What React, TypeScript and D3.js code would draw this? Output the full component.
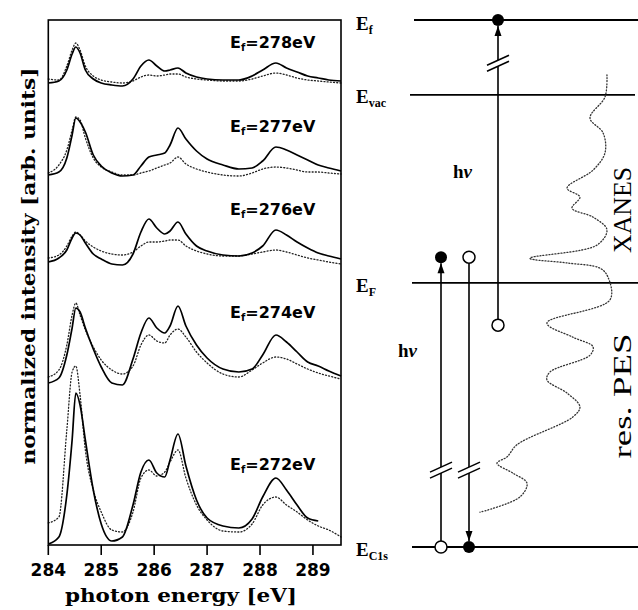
import React from 'react';
import * as d3 from 'd3';

// photon energy grid (eV) shared by all spectra
const energies = [284.0, 284.2, 284.35, 284.45, 284.52, 284.6, 284.7, 284.85, 285.0, 285.2, 285.4, 285.6, 285.75, 285.9, 286.05, 286.2, 286.3, 286.45, 286.6, 286.8, 287.0, 287.3, 287.6, 287.85, 288.05, 288.3, 288.5, 288.7, 288.9, 289.1, 289.3, 289.53];

// normalized intensity (arb. units, including vertical offsets)
const ef278Solid = [462, 464, 475, 491, 498, 492, 475, 466, 462, 460, 459, 466, 479, 485, 479, 474, 475, 477, 472, 468, 466, 465, 465, 469, 475, 482, 477, 473, 469, 467, 465, 464];
const ef278Dotted = [466, 465, 479, 495, 502, 495, 479, 469, 465, 463, 462, 464, 468, 470, 469, 470, 471, 471, 468, 466, 465, 464, 464, 466, 469, 472, 470, 467, 465, 464, 463, 462];
const ef277Solid = [370, 373, 387, 410, 427, 423, 413, 390, 379, 372, 369, 370, 379, 388, 390, 392, 400, 417, 406, 394, 386, 380, 376, 377, 384, 398, 395, 390, 385, 380, 377, 374];
const ef277Dotted = [372, 380, 395, 415, 428, 425, 407, 387, 378, 373, 370, 370, 372, 374, 377, 380, 382, 388, 381, 376, 373, 370, 369, 372, 376, 378, 377, 375, 373, 373, 372, 371];
const ef276Solid = [283, 287, 295, 307, 312, 310, 302, 291, 286, 281, 280, 291, 313, 326, 317, 311, 314, 323, 311, 299, 294, 290, 289, 292, 299, 315, 310, 303, 297, 292, 289, 286];
const ef276Dotted = [287, 290, 299, 309, 313, 310, 304, 298, 294, 291, 290, 293, 299, 303, 303, 304, 305, 305, 299, 294, 291, 289, 289, 291, 293, 295, 293, 290, 287, 285, 283, 281];
const ef274Solid = [162, 167, 190, 217, 237, 233, 217, 196, 178, 162, 160, 186, 212, 227, 217, 212, 219, 239, 219, 200, 187, 176, 173, 176, 190, 210, 203, 193, 183, 179, 174, 169];
const ef274Dotted = [168, 175, 200, 230, 242, 230, 215, 198, 185, 175, 171, 179, 200, 210, 204, 202, 210, 216, 208, 193, 182, 171, 168, 175, 182, 188, 186, 181, 176, 172, 169, 166];
const ef272Solid: (number | null)[] = [1, 8, 50, 105, 152, 140, 105, 55, 21, 4, 8, 40, 73, 85, 72, 68, 85, 111, 79, 45, 27, 19, 17, 26, 48, 67, 55, 40, 27, 24, null, null];
const ef272Dotted = [22, 28, 115, 173, 179, 150, 95, 55, 33, 15, 13, 33, 67, 75, 69, 73, 83, 95, 67, 40, 25, 14, 13, 21, 40, 48, 40, 33, 25, 19, 15, 8];

const finalEnergies = ['278', '277', '276', '274', '272'];
const labelLevels = [497, 413, 330, 227, 75];

const xTicks = [284, 285, 286, 287, 288, 289];

// energy-level diagram (arbitrary vertical energy units)
const levelNames = ['C1s', 'F', 'vac', 'f'];
const levelValues = [0, 50.1, 85.8, 100];

// rotated spectrum drawn in the level diagram: level position and intensity
const diagLevel = [89.6, 85.4, 81.4, 78.6, 74.8, 71.5, 68.1, 66.4, 64.3, 62.6, 60.2, 57.3, 54.8, 53.9, 52.9, 51.2, 46.9, 42.5, 39.8, 38.0, 36.4, 33.2, 31.7, 29.2, 26.6, 24.7, 19.4, 17.1, 15.9, 14.0, 12.1, 9.5, 6.6];
const diagIntensity = [0.913, 0.9, 0.8, 0.887, 0.9, 0.82, 0.647, 0.733, 0.68, 0.82, 0.913, 0.847, 0.4, 0.647, 0.867, 0.92, 0.933, 0.513, 0.687, 0.82, 0.8, 0.533, 0.513, 0.647, 0.733, 0.687, 0.313, 0.247, 0.18, 0.287, 0.38, 0.333, 0.067];

export default function App() {
  const W = 638, H = 610;
  const x = d3.scaleLinear().domain([284, 289.53]).range([48.3, 341]);
  const y = d3.scaleLinear().domain([0, 525]).range([545, 20]);

  const lineGen = d3.line<number | null>()
    .defined((v) => v != null)
    .x((_, i) => x(energies[i]))
    .y((v) => y(v as number))
    .curve(d3.curveMonotoneX);

  const spectra = [
    { solid: ef278Solid, dotted: ef278Dotted },
    { solid: ef277Solid, dotted: ef277Dotted },
    { solid: ef276Solid, dotted: ef276Dotted },
    { solid: ef274Solid, dotted: ef274Dotted },
    { solid: ef272Solid, dotted: ef272Dotted },
  ];

  // diagram scales
  const ly = d3.scaleLinear().domain([0, 100]).range([547, 20]);
  const ix = d3.scaleLinear().domain([0, 1]).range([470, 620]);
  const diagPts: [number, number][] = diagLevel.map((l, i) => [ix(diagIntensity[i]), ly(l)]);
  const diagPath = d3.line().curve(d3.curveCatmullRom.alpha(0.5))(diagPts) || '';

  const yEf = ly(levelValues[3]);
  const yVac = ly(levelValues[2]);
  const yEF = ly(levelValues[1]);
  const yC1s = ly(levelValues[0]);
  const upperTop = ly(55.0);
  const xanesEnd = ly(42.1);
  const breakHigh = ly(91.8);
  const breakLow = ly(14.6);

  const xC = 498, xL = 441, xM = 469;
  const r = 6;

  const breakMark = (cx: number, cy: number, key: string) => (
    <g key={key}>
      <line x1={cx - 11} y1={cy + 2} x2={cx + 11} y2={cy - 8} stroke="#000" strokeWidth={1.5} />
      <line x1={cx - 11} y1={cy + 8} x2={cx + 11} y2={cy - 2} stroke="#000" strokeWidth={1.5} />
    </g>
  );

  const vline = (cx: number, yTop: number, yBot: number, yBreak: number) => (
    <g>
      <line x1={cx} y1={yTop} x2={cx} y2={yBreak - 3} stroke="#000" strokeWidth={1.6} />
      <line x1={cx} y1={yBreak + 3} x2={cx} y2={yBot} stroke="#000" strokeWidth={1.6} />
    </g>
  );

  const arrowUp = (cx: number, tipY: number) => (
    <path d={`M${cx},${tipY} L${cx - 3.5},${tipY + 10} L${cx + 3.5},${tipY + 10} Z`} fill="#000" />
  );
  const arrowDown = (cx: number, tipY: number) => (
    <path d={`M${cx},${tipY} L${cx - 3.5},${tipY - 10} L${cx + 3.5},${tipY - 10} Z`} fill="#000" />
  );

  const serif = '"Liberation Serif", "DejaVu Serif", serif';
  const sans = '"DejaVu Sans", sans-serif';
  const titleFont = '"DejaVu Serif", serif';

  const levelLabel = (name: string, yy: number, key: string) => (
    <text key={key} x={356} y={yy} fontFamily={serif} fontWeight="bold" fontSize={19}>
      E<tspan fontSize={12} dy={4}>{name}</tspan>
    </text>
  );

  return (
    <svg width={W} height={H} style={{ position: 'absolute', left: 0, top: 0, background: '#fff' }}>
      <rect x={0} y={0} width={W} height={H} fill="#fff" />
      {/* spectra */}
      {spectra.map((s, i) => (
        <g key={i}>
          <path d={lineGen(s.dotted) || ''} fill="none" stroke="#222" strokeWidth={1.3} strokeDasharray="1,2.2" strokeLinecap="round" />
          <path d={lineGen(s.solid) || ''} fill="none" stroke="#000" strokeWidth={1.7} strokeLinejoin="round" />
          <text x={230} y={y(labelLevels[i])} fontFamily={sans} fontWeight="bold" fontSize={16}>
            E<tspan fontSize={10} dy={3}>f</tspan><tspan dy={-3}>={finalEnergies[i]}eV</tspan>
          </text>
        </g>
      ))}
      {/* frame */}
      <rect x={x(284)} y={y(525)} width={x(289.53) - x(284)} height={y(0) - y(525)} fill="none" stroke="#000" strokeWidth={1.6} />
      {xTicks.map((t) => (
        <g key={t}>
          <line x1={x(t)} x2={x(t)} y1={y(0)} y2={y(0) + 10} stroke="#000" strokeWidth={1.6} />
          <text x={x(t)} y={576} textAnchor="middle" fontFamily={sans} fontWeight="bold" fontSize={17}>{t}</text>
        </g>
      ))}
      <text x={181} y={602} textAnchor="middle" fontFamily={titleFont} fontWeight="bold" fontSize={19} textLength={232} lengthAdjust="spacingAndGlyphs">photon energy [eV]</text>
      <text transform="translate(35,266) rotate(-90)" textAnchor="middle" fontFamily={titleFont} fontWeight="bold" fontSize={19} textLength={397} lengthAdjust="spacingAndGlyphs">normalized intensity [arb. units]</text>

      {/* energy level diagram */}
      <line x1={414} x2={638} y1={yEf} y2={yEf} stroke="#000" strokeWidth={1.8} />
      <line x1={410} x2={635} y1={yVac} y2={yVac} stroke="#000" strokeWidth={1.8} />
      <line x1={412} x2={638} y1={yEF} y2={yEF} stroke="#000" strokeWidth={1.8} />
      <line x1={412} x2={638} y1={yC1s} y2={yC1s} stroke="#000" strokeWidth={1.8} />

      <path d={diagPath} fill="none" stroke="#333" strokeWidth={1.3} strokeDasharray="1,2" strokeLinecap="round" />

      {levelLabel(levelNames[3], 30, 'lf')}
      {levelLabel(levelNames[2], 103, 'lv')}
      {levelLabel(levelNames[1], 292, 'lF')}
      {levelLabel(levelNames[0], 556, 'lc')}

      {/* XANES transition */}
      {vline(xC, yEf + r, xanesEnd - r, breakHigh)}
      {breakMark(xC, breakHigh, 'b1')}
      {arrowUp(xC, yEf + r)}
      <circle cx={xC} cy={yEf} r={r} fill="#000" />
      <circle cx={xC} cy={xanesEnd} r={r} fill="#fff" stroke="#000" strokeWidth={1.5} />

      {/* PES transitions */}
      {vline(xL, upperTop + r, yC1s - r, breakLow)}
      {breakMark(xL, breakLow, 'b2')}
      {arrowUp(xL, upperTop + r)}
      <circle cx={xL} cy={upperTop} r={r} fill="#000" />
      <circle cx={xL} cy={yC1s} r={r} fill="#fff" stroke="#000" strokeWidth={1.5} />

      {vline(xM, upperTop + r, yC1s - r, breakLow)}
      {breakMark(xM, breakLow, 'b3')}
      {arrowDown(xM, yC1s - r)}
      <circle cx={xM} cy={upperTop} r={r} fill="#fff" stroke="#000" strokeWidth={1.5} />
      <circle cx={xM} cy={yC1s} r={r} fill="#000" />

      <text x={453} y={178} fontFamily={serif} fontWeight="bold" fontSize={19}>h<tspan fontStyle="italic">ν</tspan></text>
      <text x={398} y={357} fontFamily={serif} fontWeight="bold" fontSize={19}>h<tspan fontStyle="italic">ν</tspan></text>

      <text transform="translate(631,210) rotate(-90)" textAnchor="middle" fontFamily={serif} fontSize={26} textLength={86} lengthAdjust="spacingAndGlyphs">XANES</text>
      <text transform="translate(631,396) rotate(-90)" textAnchor="middle" fontFamily={serif} fontSize={26} textLength={125} lengthAdjust="spacingAndGlyphs">res. PES</text>
    </svg>
  );
}
